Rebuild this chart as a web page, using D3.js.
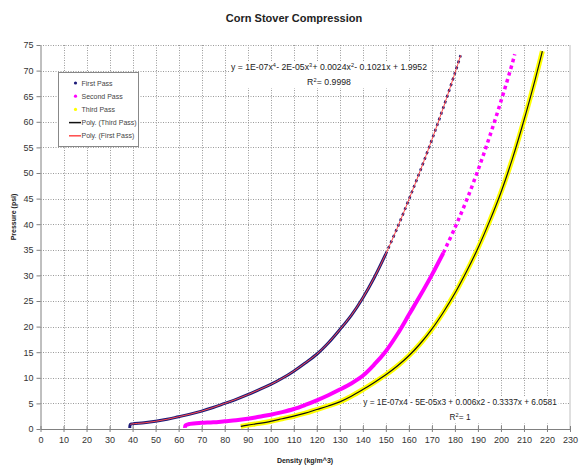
<!DOCTYPE html>
<html><head><meta charset="utf-8">
<script src="https://cdn.jsdelivr.net/npm/d3@7"></script>
<style>body{margin:0;background:#fff}svg{display:block;font-family:"Liberation Sans",Arial,sans-serif}</style>
</head><body><svg id="c" width="579" height="465"></svg>
<script>
// ---- data ----
const xTicks = d3.range(0, 231, 10);
const yTicks = d3.range(0, 76, 5);
const firstD = [38.8,39,40,45,50,55,60,65,70,75,80,85,90,95,100,105,110,115,120,125,130,135,140,145,150,155,160,165,170,175,180,182.5];
const firstP = [0.2,0.9,1.0,1.2,1.5,1.9,2.4,2.9,3.5,4.2,5.0,5.8,6.7,7.7,8.7,9.9,11.3,12.9,14.6,16.8,19.4,22.2,25.6,29.6,34.2,39.3,44.8,50.5,56.5,62.8,69.5,73.0];
const secondD = [62.8,63,65,70,75,80,85,90,95,100,105,110,115,120,125,130,135,140,145,150,155,160,165,170,175,180,185,190,195,200,205,206];
const secondP = [0.2,0.7,1.0,1.2,1.3,1.5,1.7,2.0,2.4,2.8,3.3,3.9,4.7,5.6,6.6,7.7,8.9,10.4,12.6,15.2,18.5,22.3,26.1,30.1,34.4,39.3,44.6,50.5,57.0,64.0,71.5,73.2];
const thirdD = [87,90,95,100,105,110,115,120,125,130,135,140,145,150,155,160,165,170,175,180,185,190,195,200,205,210,215,218];
const thirdP = [0.5,0.75,1.1,1.5,2.0,2.5,3.1,3.8,4.5,5.3,6.4,7.7,9.1,10.6,12.3,14.3,16.7,19.5,22.8,26.5,30.7,35.3,40.5,46.2,52.8,60.3,68.5,73.8];
const legendItems = ["First Pass","Second Pass","Third Pass","Poly. (Third Pass)","Poly. (First Pass)"];
const eq1Parts = [["y = 1E-07x"],["4",1],[" - 2E-05x"],["3",1],[" + 0.0024x"],["2",1],[" - 0.1021x + 1.9952"]];
const eq2Parts = [["y = 1E-07x4 - 5E-05x3 + 0.006x2 - 0.3337x + 6.0581"]];

const svg = d3.select("#c");
svg.append("rect").attr("width",579).attr("height",465).attr("fill","#fff");
const x = d3.scaleLinear().domain([0,230]).range([40.5,570]);
const y = d3.scaleLinear().domain([0,75]).range([429,45]);

// grid
const grid = svg.append("g").attr("stroke","#9a9a9a").attr("stroke-width",1).attr("stroke-dasharray","1,1.5");
grid.selectAll("line.v").data(xTicks.filter(d=>d>0 && d<230)).join("line")
  .attr("x1",d=>Math.round(x(d))+0.5).attr("x2",d=>Math.round(x(d))+0.5).attr("y1",y(75)).attr("y2",y(0));
grid.selectAll("line.h").data(yTicks.filter(d=>d>0)).join("line")
  .attr("y1",d=>Math.round(y(d))+0.5).attr("y2",d=>Math.round(y(d))+0.5).attr("x1",x(0)).attr("x2",x(230));
svg.append("line").attr("x1",x(230)).attr("x2",x(230)).attr("y1",y(75)).attr("y2",y(0)).attr("stroke","#c0c0c0");

// axes
const yAx = svg.append("g").attr("transform",`translate(${x(0)},0)`)
  .call(d3.axisLeft(y).tickValues(yTicks).tickSize(4).tickSizeOuter(0));
const xAx = svg.append("g").attr("transform",`translate(0,${y(0)})`)
  .call(d3.axisBottom(x).tickValues(xTicks).tickSize(3).tickSizeOuter(0));
[yAx,xAx].forEach(g=>{
  g.select(".domain").attr("stroke","#808080");
  g.selectAll(".tick line").attr("stroke","#808080");
  g.selectAll("text").attr("font-size",9).attr("fill","#333").attr("font-family","Liberation Sans, Arial");
});
xAx.selectAll(".tick line").attr("y1",-3);
xAx.selectAll("text").attr("dy","0.95em").attr("y",5);
yAx.selectAll("text").attr("x",-7);

const line = d3.line().x(d=>x(d[0])).y(d=>y(d[1])).curve(d3.curveCatmullRom);
const z = (a,b)=>a.map((v,i)=>[v,b[i]]);
const s1 = z(firstD,firstP), s2 = z(secondD,secondP), s3 = z(thirdD,thirdP);
const splitAt = (s,t)=>{const i=s.findIndex(d=>d[1]>=t);return [s.slice(0,i+1), s.slice(i)];};

// third pass (yellow)
svg.append("path").attr("d",line(s3)).attr("fill","none").attr("stroke","#ffff00").attr("stroke-width",5);
// second pass (magenta)
const [s2a,s2b] = splitAt(s2,34);
svg.append("path").attr("d",line(s2a)).attr("fill","none").attr("stroke","#ff00ff").attr("stroke-width",4);
svg.append("path").attr("d",line(s2b)).attr("fill","none").attr("stroke","#ff00ff").attr("stroke-width",3.5).attr("stroke-dasharray","3.5,3.5");
// first pass (navy)
const [s1a,s1b] = splitAt(s1,30);
svg.append("path").attr("d",line(s1a)).attr("fill","none").attr("stroke","#1c1a78").attr("stroke-width",3);
svg.append("path").attr("d",line(s1b)).attr("fill","none").attr("stroke","#1c1a78").attr("stroke-width",2.6).attr("stroke-dasharray","2.6,3.4");
// trend lines
svg.append("path").attr("d",line(s1.slice(1))).attr("fill","none").attr("stroke","#ff4a4a").attr("stroke-width",1);
svg.append("path").attr("d",line(s3)).attr("fill","none").attr("stroke","#111").attr("stroke-width",1.2);

// equation labels (separate text runs, superscripts raised)
function runLine(g, parts, cx, by, fs){
  const nodes = [];
  let w = 0;
  parts.forEach(p=>{
    const t = g.append("text").attr("y", p[1] ? by-3 : by).attr("font-size", p[1] ? 5.6 : fs).attr("fill","#222").text(p[0]);
    const L = t.node().getComputedTextLength();
    nodes.push([t,w]); w += L + (p[1] ? 0.3 : 0);
  });
  const x0 = cx - w/2;
  nodes.forEach(([t,o])=>t.attr("x",x0+o));
  return [x0, x0+w];
}
function eq(cx, by, parts, r2, fs){
  const g = svg.append("g");
  const bg = g.append("rect").attr("fill","#fff");
  const a = runLine(g, parts, cx, by, fs);
  const b = runLine(g, [["R"],["2",1],[" = "+r2]], cx, by+15, fs);
  const x0 = Math.min(a[0],b[0])-2, x1 = Math.max(a[1],b[1])+2;
  bg.attr("x",x0).attr("y",by-9).attr("width",x1-x0).attr("height",27);
}
eq(329, 70, eq1Parts, "0.9998", 8.7);
eq(460, 405, eq2Parts, "1", 8.3);

// legend
const lg = svg.append("g");
lg.append("rect").attr("x",58.5).attr("y",72.5).attr("width",80).attr("height",74).attr("fill","#fff").attr("stroke","#888");
const ly = i=>83+i*13.2;
lg.selectAll("text").data(legendItems).join("text").attr("x",81.5).attr("y",(d,i)=>ly(i)+2.5)
  .attr("font-size",7).attr("fill","#444").text(d=>d);
["#1c1a78","#ff00ff","#ffff00"].forEach((c,i)=>lg.append("circle").attr("cx",75.5).attr("cy",ly(i)).attr("r",1.6).attr("fill",c));
lg.append("line").attr("x1",69).attr("x2",81).attr("y1",ly(3)).attr("y2",ly(3)).attr("stroke","#111").attr("stroke-width",1.5);
lg.append("line").attr("x1",69).attr("x2",81).attr("y1",ly(4)).attr("y2",ly(4)).attr("stroke","#ff4a4a").attr("stroke-width",1.5);

// titles
svg.append("text").attr("x",294).attr("y",22).attr("text-anchor","middle").attr("font-size",11).attr("font-weight","bold").attr("fill","#222").text("Corn Stover Compression");
svg.append("text").attr("x",305).attr("y",463).attr("text-anchor","middle").attr("font-size",7).attr("font-weight","bold").attr("fill","#222").text("Density (kg/m^3)");
svg.append("text").attr("transform","translate(16,217) rotate(-90)").attr("text-anchor","middle").attr("font-size",7).attr("font-weight","bold").attr("fill","#222").text("Pressure (psi)");
</script></body></html>
